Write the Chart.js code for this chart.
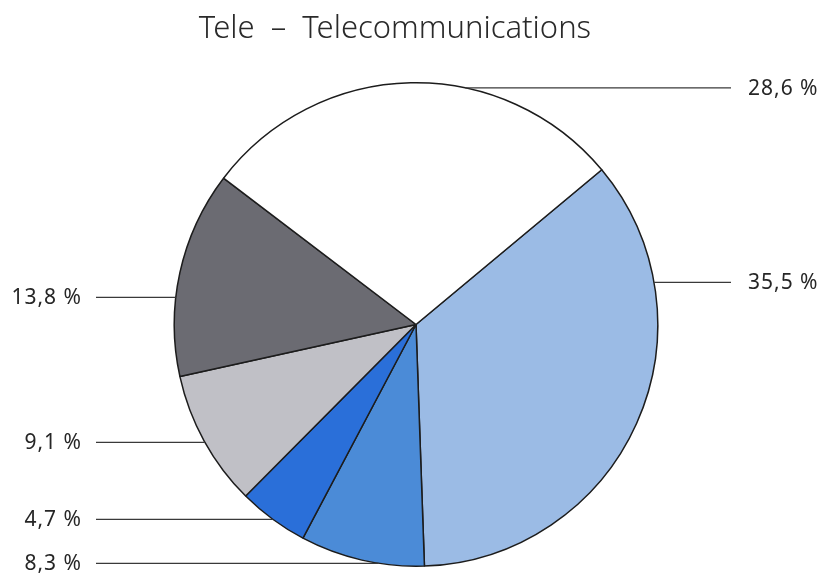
<!DOCTYPE html>
<html>
<head>
<meta charset="utf-8">
<script src="https://cdn.jsdelivr.net/npm/chart.js@4"></script>
<style>
    html, body { margin: 0; padding: 0; background: #fff; }
    #wrap { width: 824px; height: 582px; }
</style>
</head>
<body>
<div id="wrap"><canvas id="teleChart"></canvas></div>
<script>
// Anteile in Prozent, im Uhrzeigersinn ab der Grenze weiß / hellblau
const categories = ["Segment A", "Segment B", "Segment C", "Segment D", "Segment E", "Segment F"];
const shares = [35.5, 8.3, 4.7, 9.1, 13.8, 28.6];
const shareLabels = ["35,5 %", "8,3 %", "4,7 %", "9,1 %", "13,8 %", "28,6 %"];
const sliceColors = ["#9bbbe5", "#4b8bd7", "#2a6fd9", "#c0c0c6", "#6b6b72", "#ffffff"];

// Beschriftungslinien: Seite und Höhe relativ zum Radius
const labelSide = ["right", "left", "left", "left", "left", "right"];
const labelLevel = [-0.174, 0.988, 0.806, 0.488, -0.112, -0.979];

const FONT = "'Noto Sans', 'DejaVu Sans', sans-serif";

const sliceLabels = {
    id: "sliceLabels",
    afterDatasetsDraw(chart) {
        const c = chart.ctx;
        const arcs = chart.getDatasetMeta(0).data;
        c.save();
        c.strokeStyle = "#3a3a3a";
        c.lineWidth = 1.2;
        c.fillStyle = "#262626";
        c.font = "400 21px " + FONT;
        c.letterSpacing = "1px";
        c.textBaseline = "middle";
        arcs.forEach((arc, i) => {
            const r = arc.outerRadius;
            const y = arc.y + labelLevel[i] * r;
            const dx = Math.sqrt(Math.max(r * r - (y - arc.y) * (y - arc.y), 0));
            c.beginPath();
            if (labelSide[i] === "right") {
                c.moveTo(arc.x + dx, y);
                c.lineTo(731, y);
                c.stroke();
                c.textAlign = "left";
                c.fillText(shareLabels[i], 748, y + 1);
            } else {
                c.moveTo(96, y);
                c.lineTo(arc.x - dx, y);
                c.stroke();
                c.textAlign = "right";
                c.fillText(shareLabels[i], 82, y + 1);
            }
        });
        c.letterSpacing = "0px";
        c.font = "300 31px " + FONT;
        c.textAlign = "center";
        c.fillStyle = "#2a2a2a";
        c.fillText("Tele  –  Telecommunications", 395, 29);
        c.restore();
    }
};

new Chart(document.getElementById("teleChart"), {
    type: "pie",
    data: {
        labels: categories,
        datasets: [{
            data: shares,
            backgroundColor: sliceColors,
            borderColor: "#1c1c1c",
            borderWidth: 1.5
        }]
    },
    options: {
        responsive: true,
        maintainAspectRatio: false,
        animation: false,
        rotation: 50.2,
        layout: {
            padding: { top: 82, bottom: 15, left: 100, right: 92 }
        },
        plugins: {
            legend: { display: false },
            tooltip: { enabled: false },
            title: { display: false }
        }
    },
    plugins: [sliceLabels]
});
</script>
</body>
</html>
